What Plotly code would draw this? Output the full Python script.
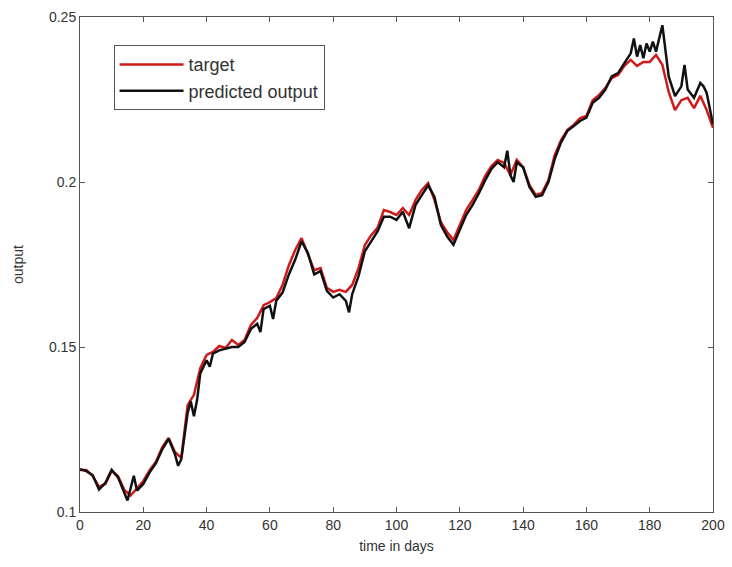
import plotly.graph_objects as go

# target series (every 2 days)
target_days = list(range(0, 201, 2))
target_vals = [
    0.1127, 0.1127, 0.1109, 0.1076, 0.1085, 0.1124, 0.1109, 0.1067, 0.1050, 0.1073,
    0.1094, 0.1127, 0.1152, 0.1197, 0.1224, 0.1182, 0.1164, 0.1324, 0.1355, 0.1436,
    0.1476, 0.1485, 0.1503, 0.1497, 0.1521, 0.1506, 0.1521, 0.1567, 0.1588, 0.1627,
    0.1636, 0.1648, 0.1688, 0.1748, 0.1794, 0.1830, 0.1779, 0.1733, 0.1739, 0.1679,
    0.1667, 0.1673, 0.1667, 0.1688, 0.1739, 0.1809, 0.1839, 0.1861, 0.1915, 0.1909,
    0.1900, 0.1921, 0.1900, 0.1945, 0.1976, 0.1997, 0.1945, 0.1879, 0.1848, 0.1824,
    0.1870, 0.1915, 0.1945, 0.1976, 0.2018, 0.2048, 0.2067, 0.2058, 0.2021, 0.2067,
    0.2045, 0.1991, 0.1961, 0.1967, 0.2006, 0.2082, 0.2127, 0.2158, 0.2173, 0.2194,
    0.2200, 0.2248, 0.2264, 0.2285, 0.2315, 0.2324, 0.2352, 0.2370, 0.2352, 0.2364,
    0.2364, 0.2385, 0.2355, 0.2273, 0.2218, 0.2248, 0.2255, 0.2224, 0.2261, 0.2218,
    0.2164,
]

# predicted output series
pred_days = [
    0, 2, 4, 6, 8, 10, 12, 14, 15, 17, 18, 20, 22, 24, 26, 28, 30, 31, 32, 34,
    35, 36, 37, 38, 40, 41, 42, 44, 46, 48, 50, 52, 54, 56, 57, 58, 60, 61, 62, 64,
    66, 68, 70, 72, 74, 76, 78, 80, 82, 84, 85, 86, 88, 90, 92, 94, 96, 98, 100, 102,
    104, 106, 108, 110, 112, 114, 116, 118, 120, 122, 124, 126, 128, 130, 132, 134, 135, 136, 137, 138,
    140, 142, 144, 146, 148, 150, 152, 154, 156, 158, 160, 162, 164, 166, 168, 170, 172, 174, 175, 176,
    177, 178, 179, 180, 181, 182, 184, 186, 188, 190, 191, 192, 194, 196, 197, 198, 200,
]
pred_vals = [
    0.1130, 0.1124, 0.1112, 0.1068, 0.1088, 0.1128, 0.1105, 0.1060, 0.1035, 0.1110,
    0.1065, 0.1085, 0.1120, 0.1148, 0.1190, 0.1222, 0.1175, 0.1140, 0.1160, 0.1300,
    0.1335, 0.1290, 0.1340, 0.1420, 0.1460, 0.1440, 0.1480, 0.1490, 0.1495, 0.1500,
    0.1500, 0.1515, 0.1555, 0.1570, 0.1545, 0.1615, 0.1625, 0.1585, 0.1640, 0.1665,
    0.1720, 0.1765, 0.1820, 0.1785, 0.1720, 0.1730, 0.1670, 0.1650, 0.1660, 0.1640,
    0.1605, 0.1660, 0.1715, 0.1790, 0.1820, 0.1850, 0.1895, 0.1895, 0.1885, 0.1910,
    0.1860, 0.1930, 0.1960, 0.1990, 0.1955, 0.1870, 0.1835, 0.1810, 0.1855, 0.1900,
    0.1930, 0.1965, 0.2005, 0.2040, 0.2060, 0.2045, 0.2095, 0.2020, 0.2000, 0.2060,
    0.2045, 0.1985, 0.1955, 0.1960, 0.2000, 0.2070, 0.2120, 0.2155, 0.2170, 0.2185,
    0.2195, 0.2240, 0.2255, 0.2280, 0.2320, 0.2330, 0.2360, 0.2390, 0.2435, 0.2380,
    0.2415, 0.2375, 0.2420, 0.2395, 0.2425, 0.2395, 0.2475, 0.2320, 0.2260, 0.2290,
    0.2355, 0.2280, 0.2255, 0.2300, 0.2290, 0.2270, 0.2175,
]

x_ticks = [0, 20, 40, 60, 80, 100, 120, 140, 160, 180, 200]
y_ticks = [0.1, 0.15, 0.2, 0.25]
y_tick_labels = ["0.1", "0.15", "0.2", "0.25"]

fig = go.Figure()
fig.add_trace(go.Scatter(x=target_days, y=target_vals, mode="lines", name="target",
                         line=dict(color="#d01a1a", width=2.5)))
fig.add_trace(go.Scatter(x=pred_days, y=pred_vals, mode="lines", name="predicted output",
                         line=dict(color="#111111", width=2.5)))

axis_common = dict(showgrid=False, zeroline=False, showline=True, linecolor="#555555",
                   linewidth=1, mirror="ticks", ticks="inside", ticklen=5,
                   tickcolor="#555555", tickfont=dict(size=14, color="#333333"),
                   automargin=False)

fig.update_layout(
    width=732, height=567,
    margin=dict(l=80, r=19, t=17, b=55),
    paper_bgcolor="white", plot_bgcolor="white",
    font=dict(family="Liberation Sans, Arial, sans-serif", size=14, color="#333333"),
    xaxis=dict(range=[0, 200], tickvals=x_ticks,
               title=dict(text="time in days", standoff=9, font=dict(size=14)),
               **axis_common),
    yaxis=dict(range=[0.1, 0.25], tickvals=y_ticks, ticktext=y_tick_labels,
               title=dict(text="output", standoff=22, font=dict(size=14)),
               **axis_common),
    legend=dict(x=0.053, y=0.943, xanchor="left", yanchor="top",
                bordercolor="#555555", borderwidth=1, bgcolor="white",
                font=dict(size=18, color="#333333"), tracegroupgap=0,
                itemwidth=64),
    showlegend=True,
)

fig.write_html("out.html")
